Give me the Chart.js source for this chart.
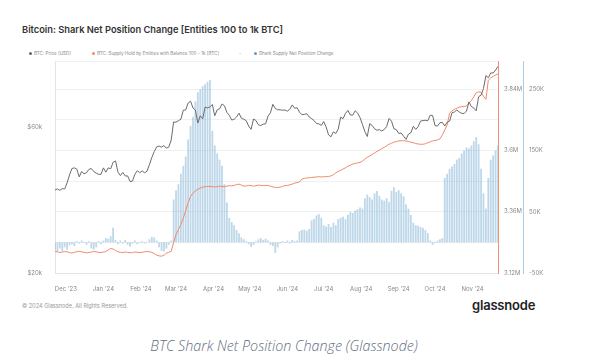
<!DOCTYPE html>
<html>
<head>
<meta charset="utf-8">
<script src="https://cdn.jsdelivr.net/npm/chart.js@4.4.1/dist/chart.umd.min.js"></script>
<style>
    html, body { margin: 0; padding: 0; background: #fff; }
    body { width: 607px; height: 364px; position: relative; overflow: hidden; font-family: Inter, sans-serif; }
    #title { position: absolute; left: 22px; top: 24px; line-height: 12px; font-size: 9.3px; font-weight: 600; color: #333; white-space: nowrap; }
    .legend { position: absolute; top: 51px; line-height: 6px; font-size: 4.6px; color: #8a8a8a; white-space: nowrap; }
    .legend i { display: inline-block; width: 3px; height: 3px; border-radius: 50%; margin-right: 2px; vertical-align: 0; }
    #wrap { position: absolute; left: 0; top: 0; width: 607px; height: 296px; }
    #copy { position: absolute; left: 22px; top: 303px; line-height: 6px; font-size: 5.6px; color: #999; white-space: nowrap; }
    #logo { position: absolute; left: 472px; top: 298px; line-height: 15px; font-size: 13px; font-weight: 600; color: #222; letter-spacing: -0.2px; }
    #caption { position: absolute; left: 0; width: 568px; text-align: center; top: 337px; line-height: 18px; font-family: "Open Sans", sans-serif; font-style: italic; font-weight: 300; font-size: 14.3px; color: #5f6d80; }
</style>
</head>
<body>
<div id="title">Bitcoin: Shark Net Position Change [Entities 100 to 1k BTC]</div>
<div class="legend" style="left:29px"><i style="background:#666"></i>BTC: Price [USD]</div>
<div class="legend" style="left:92px"><i style="background:#f08a6a"></i>BTC: Supply Held by Entities with Balance 100 - 1k [BTC]</div>
<div class="legend" style="left:239px">-</div>
<div class="legend" style="left:254px"><i style="background:#5b9bd5"></i>Shark Supply Net Position Change</div>
<div id="wrap"><canvas id="chart" width="607" height="296"></canvas></div>
<div id="copy">© 2024 Glassnode. All Rights Reserved.</div>
<div id="logo">glassnode</div>
<div id="caption">BTC Shark Net Position Change (Glassnode)</div>
<script>
// one value every 2 days, 22 Nov 2023 -> 22 Nov 2024
const startDate = Date.UTC(2023, 10, 22);
const DAY = 86400000;
const STEP_DAYS = 2;

// BTC price, thousands of USD
const btcPrice = [
    37.4, 37.7, 37.3, 37.8, 37.7, 39.5, 41.9, 44.0, 44.2, 43.8,
    41.3, 43.0, 42.3, 42.6, 43.7, 44.0, 43.0, 42.5, 42.1, 42.1,
    44.2, 42.8, 44.2, 43.9, 46.1, 46.6, 42.8, 41.7, 42.7, 41.6,
    41.6, 39.9, 40.0, 42.1, 43.3, 42.6, 43.2, 42.6, 43.1, 45.3,
    47.8, 50.0, 51.8, 52.1, 51.7, 52.3, 51.3, 51.7, 54.5, 62.5,
    62.4, 63.1, 63.8, 68.3, 68.5, 72.1, 73.1, 69.5, 68.4, 62.0,
    65.5, 64.0, 69.9, 69.5, 70.0, 71.3, 65.5, 68.5, 69.0, 71.6,
    70.6, 67.2, 65.7, 63.4, 63.8, 64.9, 66.8, 64.3, 63.8, 63.1,
    60.6, 59.1, 63.9, 63.2, 61.2, 60.8, 61.5, 61.6, 65.3, 67.0,
    71.4, 69.2, 68.5, 68.5, 68.3, 68.4, 67.8, 68.8, 71.1, 69.3,
    69.6, 67.3, 66.0, 66.2, 66.5, 64.9, 64.1, 63.2, 61.8, 61.6,
    60.9, 62.7, 60.2, 56.7, 55.9, 58.0, 57.3, 59.2, 64.8, 64.1,
    66.7, 68.2, 65.9, 65.8, 68.0, 66.8, 64.6, 61.4, 58.1, 56.0,
    61.7, 60.9, 59.4, 58.7, 59.0, 58.4, 59.0, 60.4, 64.2, 62.9,
    59.4, 59.0, 57.3, 57.5, 56.1, 54.8, 57.0, 57.6, 60.5, 59.1,
    60.3, 62.9, 63.2, 63.3, 63.1, 65.8, 65.6, 60.8, 60.6, 62.1,
    62.3, 60.6, 62.4, 62.9, 67.0, 67.4, 68.4, 67.4, 66.7, 66.6,
    67.9, 72.7, 70.2, 69.4, 68.0, 75.6, 76.5, 80.4, 88.7, 87.3,
    90.5, 90.4, 92.5, 95.0
];

// supply held by entities with 100 - 1k BTC, millions of BTC
const sharkSupply = [
    3.205, 3.203, 3.200, 3.202, 3.204, 3.203, 3.200, 3.198, 3.201, 3.203,
    3.205, 3.203, 3.201, 3.199, 3.200, 3.202, 3.204, 3.203, 3.201, 3.200,
    3.202, 3.204, 3.210, 3.216, 3.214, 3.208, 3.203, 3.201, 3.200, 3.202,
    3.201, 3.199, 3.200, 3.202, 3.201, 3.200, 3.201, 3.203, 3.204, 3.203,
    3.201, 3.196, 3.190, 3.187, 3.186, 3.189, 3.198, 3.201, 3.205, 3.240,
    3.270, 3.290, 3.310, 3.335, 3.365, 3.395, 3.420, 3.432, 3.442, 3.448,
    3.452, 3.456, 3.458, 3.459, 3.459, 3.458, 3.457, 3.458, 3.460, 3.459,
    3.458, 3.460, 3.462, 3.461, 3.463, 3.466, 3.468, 3.464, 3.460, 3.461,
    3.463, 3.462, 3.460, 3.462, 3.464, 3.463, 3.462, 3.463, 3.462, 3.460,
    3.457, 3.455, 3.455, 3.456, 3.459, 3.462, 3.463, 3.465, 3.468, 3.472,
    3.474, 3.476, 3.488, 3.490, 3.492, 3.493, 3.494, 3.495, 3.496, 3.497,
    3.496, 3.497, 3.497, 3.498, 3.500, 3.505, 3.512, 3.518, 3.522, 3.527,
    3.532, 3.538, 3.542, 3.546, 3.549, 3.551, 3.553, 3.558, 3.566, 3.573,
    3.578, 3.584, 3.590, 3.596, 3.601, 3.607, 3.612, 3.618, 3.624, 3.628,
    3.632, 3.635, 3.637, 3.638, 3.638, 3.637, 3.635, 3.632, 3.630, 3.627,
    3.625, 3.624, 3.624, 3.626, 3.630, 3.634, 3.637, 3.639, 3.641, 3.645,
    3.660, 3.680, 3.700, 3.745, 3.755, 3.761, 3.765, 3.769, 3.771, 3.772,
    3.774, 3.785, 3.795, 3.810, 3.826, 3.829, 3.828, 3.812, 3.800, 3.875,
    3.884, 3.890, 3.895, 3.900
];

// shark supply net position change, thousands of BTC
const sharkNetChange = [
    -12, -15, -10, -14, -8, -12, -5, -3, -6, 2,
    -2, 3, -1, -4, 2, -10, -12, -8, 2, -3,
    3, 7, 6, 10, 24, 4, -3, 3, -2, 4,
    -4, -7, -2, 3, -3, -1, 2, -2, 1, 5,
    9, 8, 3, -8, -14, -15, -10, -4, 3, 70,
    85, 95, 112, 125, 140, 168, 190, 205, 230, 245,
    250, 255, 258, 262, 265, 182, 158, 145, 135, 125,
    95, 65, 40, 33, 28, 20, 15, 8, 5, 2,
    -3, -7, -4, 2, 5, 7, 4, 6, 3, -4,
    -6, -17, -8, -2, 2, -1, 3, -2, 4, 2,
    3, 18, 20, 21, 19, 22, 36, 38, 44, 46,
    40, 28, 26, 30, 25, 32, 28, 38, 40, 42,
    38, 45, 50, 48, 52, 54, 57, 55, 72, 78,
    74, 70, 80, 84, 76, 70, 68, 72, 66, 84,
    90, 82, 85, 80, 75, 62, 55, 45, 32, 28,
    27, 25, 24, 20, 15, 3, -4, -1, 3, 5,
    7, 105, 112, 120, 124, 128, 135, 138, 145, 150,
    155, 153, 158, 165, 172, 160, 120, 80, 55, 105,
    135, 142, 150, 158
];

const monthLabels = ["Dec '23", "Jan '24", "Feb '24", "Mar '24", "Apr '24", "May '24",
    "Jun '24", "Jul '24", "Aug '24", "Sep '24", "Oct '24", "Nov '24"];
const monthStarts = ['2023-12-01', '2024-01-01', '2024-02-01', '2024-03-01', '2024-04-01', '2024-05-01',
    '2024-06-01', '2024-07-01', '2024-08-01', '2024-09-01', '2024-10-01', '2024-11-01'];

const priceTicks = [20000, 60000];
const supplyLabelTicks = [3.12, 3.36, 3.6, 3.84];
const netTicks = [-50, 50, 150, 250];

const dates = btcPrice.map((_, i) => new Date(startDate + i * STEP_DAYS * DAY).toISOString().slice(0, 10));
const monthPos = monthStarts.map(m => (Date.parse(m) - startDate) / (STEP_DAYS * DAY));

const tickFont = { family: 'Inter', size: 6 };
const tickColor = '#8a8a8a';

new Chart(document.getElementById('chart'), {
    data: {
        labels: dates,
        datasets: [{
            type: 'line',
            label: 'BTC: Price [USD]',
            data: btcPrice.map(v => v * 1000),
            yAxisID: 'price',
            borderColor: '#6b6b6b',
            borderWidth: 1,
            pointRadius: 0,
            tension: 0,
            order: 1
        }, {
            type: 'line',
            label: 'BTC: Supply Held by Entities with Balance 100 - 1k [BTC]',
            data: sharkSupply,
            yAxisID: 'supply',
            borderColor: '#f0896d',
            borderWidth: 1,
            pointRadius: 0,
            tension: 0,
            order: 2
        }, {
            type: 'bar',
            label: 'Shark Supply Net Position Change',
            data: sharkNetChange,
            yAxisID: 'net',
            backgroundColor: 'rgba(125,178,214,0.5)',
            barPercentage: 0.75,
            categoryPercentage: 1,
            order: 3
        }]
    },
    options: {
        responsive: false,
        animation: false,
        layout: { padding: { top: 61, left: 0, right: 0, bottom: 0 } },
        plugins: { legend: { display: false }, tooltip: { enabled: false } },
        scales: {
            x: {
                type: 'category',
                offset: false,
                grid: { display: false },
                border: { color: '#e4e4e4' },
                ticks: {
                    autoSkip: false, maxRotation: 0, font: tickFont, color: tickColor, padding: 5,
                    callback: (v, i) => monthLabels[i]
                },
                afterBuildTicks: axis => { axis.ticks = monthPos.map(v => ({ value: v })); },
                afterFit: axis => { axis.height = 23; }
            },
            price: {
                type: 'logarithmic',
                position: 'left',
                min: 20000,
                max: 99000,
                grid: { display: false },
                border: { color: '#e4e4e4' },
                ticks: { font: tickFont, color: tickColor, padding: 5, callback: v => '$' + (v / 1000) + 'k' },
                afterBuildTicks: axis => { axis.ticks = priceTicks.map(v => ({ value: v })); },
                afterFit: axis => { axis.width = 55; }
            },
            supply: {
                type: 'linear',
                position: 'right',
                min: 3.12,
                max: 3.95,
                grid: { color: '#f0f0f0', drawTicks: false },
                border: { color: '#f09076' },
                ticks: {
                    stepSize: 0.12, font: tickFont, color: tickColor, padding: 6,
                    callback: v => supplyLabelTicks.some(t => Math.abs(t - v) < 1e-6) ? (Math.round(v * 100) / 100) + 'M' : ''
                },
                afterFit: axis => { axis.width = 25; }
            },
            net: {
                type: 'linear',
                position: 'right',
                min: -50,
                max: 296,
                grid: { display: false, drawTicks: false },
                border: { color: '#a9cde6' },
                ticks: { font: tickFont, color: tickColor, padding: 6, callback: v => v + 'K' },
                afterBuildTicks: axis => { axis.ticks = netTicks.map(v => ({ value: v })); },
                afterFit: axis => { axis.width = 84; }
            }
        }
    }
});
</script>
</body>
</html>
